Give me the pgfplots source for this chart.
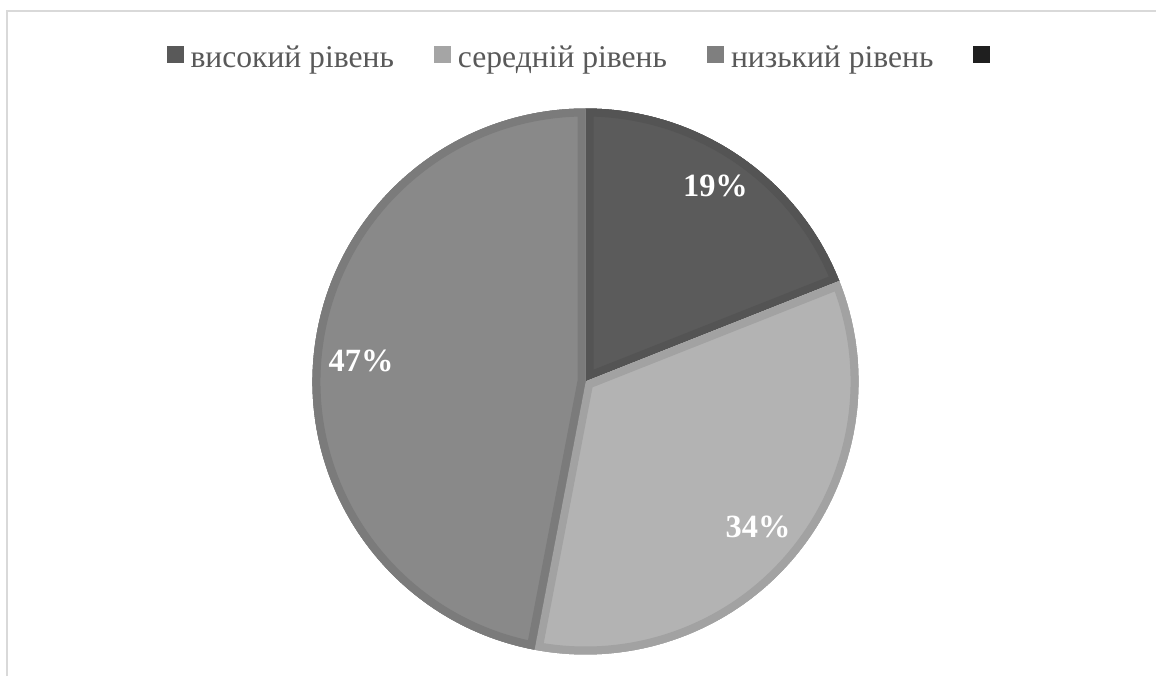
\documentclass[border=0pt]{standalone}
\usepackage{pgfplots}
\pgfplotsset{compat=1.18}
\usepackage{fontspec}
\setmainfont{Liberation Serif}
\definecolor{cHigh}{HTML}{5B5B5B}
\definecolor{cHighB}{HTML}{545454}
\definecolor{cMid}{HTML}{B3B3B3}
\definecolor{cMidB}{HTML}{A2A2A2}
\definecolor{cLow}{HTML}{898989}
\definecolor{cLowB}{HTML}{7B7B7B}
\definecolor{legHigh}{HTML}{595959}
\definecolor{legMid}{HTML}{A5A5A5}
\definecolor{legLow}{HTML}{7F7F7F}
\definecolor{legBlack}{HTML}{1F1F1F}
\definecolor{legText}{HTML}{595959}
\definecolor{frameC}{HTML}{D9D9D9}
\tikzset{innerborder/.style 2 args={postaction={clip, postaction={draw=#1, line width=#2}}}}
% shares (percent): 19, 34, 47 ; one percent = 3.6 degrees, start at 90 deg, clockwise
\begin{document}
\begin{tikzpicture}
\useasboundingbox (0,0) rectangle (578pt,338pt);
\draw[frameC, line width=1pt] (3.5pt,0pt) -- (3.5pt,332.5pt) -- (578pt,332.5pt);
\begin{axis}[
  at={(292.75pt,147.25pt)}, anchor=center,
  scale only axis, width=273pt, height=273pt,
  xmin=-1, xmax=1, ymin=-1, ymax=1,
  hide axis, clip=false,
  legend columns=4,
  legend image code/.code={\fill[#1, draw=none] (0pt,-2.5pt) rectangle (8.5pt,6pt);},
  legend style={draw=none, fill=none, at={(0.5,1.093)}, anchor=center,
    font=\fontsize{15.8}{19}\selectfont,
    nodes={text=legText, inner xsep=3.5pt, inner ysep=1pt},
    /tikz/every even column/.append style={column sep=16.5pt}},
]
% 19% : from 90 deg, delta -68.4 deg
\addplot[forget plot, data cs=polar, fill=cHigh, draw=none, innerborder={cHighB}{8pt}]
  coordinates {(0,0) (90,1)} arc[start angle=90, delta angle=-68.4, radius=136.5pt] -- cycle;
% 34% : from 21.6 deg, delta -122.4 deg
\addplot[forget plot, data cs=polar, fill=cMid, draw=none, innerborder={cMidB}{8pt}]
  coordinates {(0,0) (21.6,1)} arc[start angle=21.6, delta angle=-122.4, radius=136.5pt] -- cycle;
% 47% : from -100.8 deg, delta -169.2 deg
\addplot[forget plot, data cs=polar, fill=cLow, draw=none, innerborder={cLowB}{8pt}]
  coordinates {(0,0) (-100.8,1)} arc[start angle=-100.8, delta angle=-169.2, radius=136.5pt] -- cycle;

\addlegendimage{fill=legHigh}\addlegendentry{високий рівень}
\addlegendimage{fill=legMid}\addlegendentry{середній рівень}
\addlegendimage{fill=legLow}\addlegendentry{низький рівень}
\addlegendimage{fill=legBlack}\addlegendentry{}

\node[font=\bfseries\fontsize{16.2}{19}\selectfont, text=white] at (axis cs:0.476,0.716) {19\%};
\node[font=\bfseries\fontsize{16.2}{19}\selectfont, text=white] at (axis cs:0.632,-0.533) {34\%};
\node[font=\bfseries\fontsize{16.2}{19}\selectfont, text=white] at (axis cs:-0.822,0.077) {47\%};
\end{axis}
\end{tikzpicture}
\end{document}
